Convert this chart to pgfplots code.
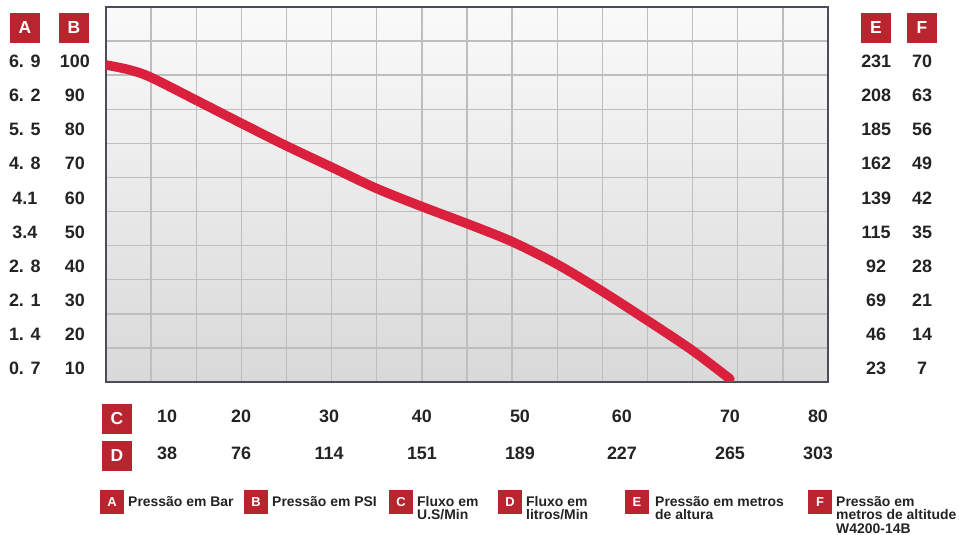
\documentclass[border=0pt]{standalone}
\usepackage{fontspec}
\setmainfont{Liberation Sans}
\usepackage{pgfplots}
\pgfplotsset{compat=1.18}
\definecolor{boxred}{RGB}{185,37,46}
\definecolor{curvered}{RGB}{218,32,60}
\definecolor{framec}{RGB}{75,78,84}
\definecolor{gridc}{RGB}{190,190,192}
\definecolor{txt}{RGB}{35,35,35}
\newcommand{\lab}[2]{\makebox[50bp][c]{#1}\makebox[50bp][c]{#2}}
\newcommand{\rlab}[2]{\makebox[46bp][c]{#1}\makebox[46bp][c]{#2}}
\begin{document}
\begin{tikzpicture}[x=1bp,y=1bp,
  hbox/.style={fill=boxred, text=white, minimum size=30bp, inner sep=0pt, font=\fontsize{17.5}{18}\selectfont\bfseries},
  lbox/.style={fill=boxred, text=white, minimum size=24bp, inner sep=0pt, font=\fontsize{13}{14}\selectfont\bfseries},
  ltxt/.style={anchor=base west, inner sep=0pt, text=txt, font=\fontsize{14}{14}\selectfont\bfseries}]
\path[use as bounding box] (-106,-153) rectangle (853,382);
\begin{axis}[at={(0,0)}, anchor=south west, scale only axis,
  width=722bp, height=375bp,
  xmin=0, xmax=80, ymin=6, ymax=116,
  axis background/.style={top color=white!98!black, bottom color=black!15},
  axis line style={draw=framec, line width=2.6bp},
  xtick={6.76,14.96,24.71,35.01,45.87,57.17,69.14,78.89},
  xticklabels={{10\\38},{20\\76},{30\\114},{40\\151},{50\\189},{60\\227},{70\\265},{80\\303}},
  xticklabel style={align=center, anchor=north, inner sep=0pt, yshift=-28bp,
    font=\fontsize{18}{37}\selectfont\bfseries, text=txt},
  ytick={10,20,...,100},
  yticklabels={\lab{0. 7}{10},\lab{1. 4}{20},\lab{2. 1}{30},\lab{2. 8}{40},\lab{3.4}{50},
    \lab{4.1}{60},\lab{4. 8}{70},\lab{5. 5}{80},\lab{6. 2}{90},\lab{6. 9}{100}},
  yticklabel style={anchor=east, inner sep=0pt, xshift=-6bp,
    font=\fontsize{18}{20}\selectfont\bfseries, text=txt},
  major tick length=0pt, minor tick length=0pt,
  minor xtick={0,5,...,80}, minor ytick={6,16,...,116},
  xminorgrids, yminorgrids,
  minor grid style={draw=gridc, line width=1.4bp},
]
\addplot[curvered, line width=9.5bp, line cap=round, smooth] coordinates {
  (0,98.99) (2.44,97.67) (4.88,95.47) (10.05,88.57) (15.04,81.83) (20.02,75.23)
  (25.07,68.92) (29.99,62.76) (34.98,57.48) (39.97,52.49) (44.95,47.21)
  (49.94,40.61) (54.93,32.69) (59.91,24.19) (64.9,15.39) (69.14,6.88)
};
\end{axis}
\begin{axis}[at={(0,0)}, anchor=south west, scale only axis,
  width=722bp, height=375bp,
  xmin=0, xmax=80, ymin=6, ymax=116,
  axis line style={draw=none}, xtick=\empty,
  ytick={10,20,...,100}, yticklabel pos=right,
  yticklabels={\rlab{23}{7},\rlab{46}{14},\rlab{69}{21},\rlab{92}{28},\rlab{115}{35},
    \rlab{139}{42},\rlab{162}{49},\rlab{185}{56},\rlab{208}{63},\rlab{231}{70}},
  yticklabel style={anchor=west, inner sep=0pt, xshift=25bp,
    font=\fontsize{18}{20}\selectfont\bfseries, text=txt},
  major tick length=0pt,
]
\addplot[draw=none] coordinates {(0,6)};
\end{axis}
% header boxes
\node[hbox] at (-81,354) {A};
\node[hbox] at (-32,354) {B};
\node[hbox] at (770,354) {E};
\node[hbox] at (816,354) {F};
\node[hbox] at (11,-37) {C};
\node[hbox] at (11,-74) {D};
% legend
\node[lbox] at (6,-120) {A};
\node[ltxt] at (22,-124.5) {Pressão em Bar};
\node[lbox] at (150,-120) {B};
\node[ltxt] at (166,-124.5) {Pressão em PSI};
\node[lbox] at (295,-120) {C};
\node[ltxt] at (311,-124.5) {Fluxo em};
\node[ltxt] at (311,-137.8) {U.S/Min};
\node[lbox] at (404,-120) {D};
\node[ltxt] at (420,-124.5) {Fluxo em};
\node[ltxt] at (420,-137.8) {litros/Min};
\node[lbox] at (531,-120) {E};
\node[ltxt] at (549,-124.5) {Pressão em metros};
\node[ltxt] at (549,-137.8) {de altura};
\node[lbox] at (714,-120) {F};
\node[ltxt] at (730,-124.5) {Pressão em};
\node[ltxt] at (730,-137.8) {metros de altitude};
\node[ltxt] at (730,-151.1) {W4200-14B};
\end{tikzpicture}
\end{document}
